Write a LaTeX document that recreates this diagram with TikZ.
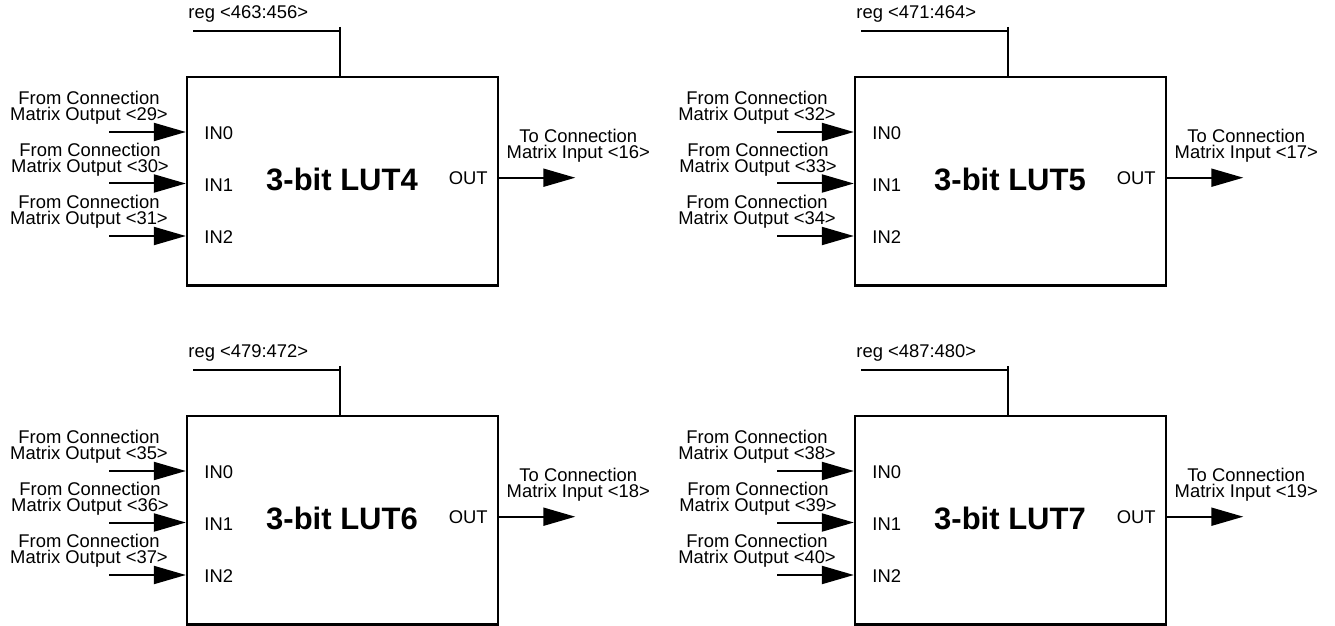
\documentclass[tikz,border=0pt]{standalone}
\usepackage{fontspec}
\setmainfont{Liberation Sans}
\usetikzlibrary{calc}
\usetikzlibrary{arrows.meta}

\begin{document}
\begin{tikzpicture}[x=0.5pt,y=-0.5pt]
    \tikzstyle{lut}=[draw,line width=1.15pt,minimum width=155.6pt,minimum height=104.2pt,inner sep=0]
    \tikzstyle{sig}=[line width=1pt,-{Triangle[length=16pt,width=9pt]}]
    \tikzstyle{wire}=[line width=1pt]
    \tikzstyle{lbl}=[inner sep=0,align=center,font=\fontsize{9.2}{7.8}\selectfont]
    \tikzstyle{pin}=[inner sep=0,font=\fontsize{9.2}{11}\selectfont]
    \tikzstyle{title}=[inner sep=0,font=\fontsize{15.5}{18}\selectfont\bfseries]
    \useasboundingbox (0,0) rectangle (1335,626);

    % LUT4
    \node[lut] (lut4) at (342.6,181.2) {};
    \node[title] (t4) at (342,179) {3-bit LUT4};
    \node[pin,anchor=west] (r4) at (188,14) {reg <463:456>};
    \coordinate (r4a) at (193,31);
    \coordinate (r4b) at (340,27);
    \draw[wire] (r4a) -- (r4a -| r4b);
    \draw[wire] (r4b) -- (r4b |- lut4.north);
    \coordinate (i4a) at (109,132);
    \coordinate (i4b) at (109,183.5);
    \coordinate (i4c) at (109,236);
    \draw[sig] (i4a) -- (i4a -| lut4.west);
    \draw[sig] (i4b) -- (i4b -| lut4.west);
    \draw[sig] (i4c) -- (i4c -| lut4.west);
    \node[lbl] (f4a) at (89,108) {From Connection\\Matrix Output <29>};
    \node[lbl] (f4b) at (90,159.5) {From Connection\\Matrix Output <30>};
    \node[lbl] (f4c) at (89,212) {From Connection\\Matrix Output <31>};
    \node[pin,anchor=west] (p4a) at (204,133.5) {IN0};
    \node[pin,anchor=west] (p4b) at (204,185) {IN1};
    \node[pin,anchor=west] (p4c) at (204,237.5) {IN2};
    \node[pin,anchor=east] (o4) at (488,178.5) {OUT};
    \coordinate (q4) at (575.3,177.7);
    \draw[sig] (lut4.east |- q4) -- (q4);
    \node[lbl] (g4) at (578.3,146) {To Connection\\Matrix Input <16>};

    % LUT5
    \node[lut] (lut5) at (1010.6,181.2) {};
    \node[title] (t5) at (1010,179) {3-bit LUT5};
    \node[pin,anchor=west] (r5) at (856,14) {reg <471:464>};
    \coordinate (r5a) at (861,31);
    \coordinate (r5b) at (1008,27);
    \draw[wire] (r5a) -- (r5a -| r5b);
    \draw[wire] (r5b) -- (r5b |- lut5.north);
    \coordinate (i5a) at (777,132);
    \coordinate (i5b) at (777,183.5);
    \coordinate (i5c) at (777,236);
    \draw[sig] (i5a) -- (i5a -| lut5.west);
    \draw[sig] (i5b) -- (i5b -| lut5.west);
    \draw[sig] (i5c) -- (i5c -| lut5.west);
    \node[lbl] (f5a) at (757,108) {From Connection\\Matrix Output <32>};
    \node[lbl] (f5b) at (758,159.5) {From Connection\\Matrix Output <33>};
    \node[lbl] (f5c) at (757,212) {From Connection\\Matrix Output <34>};
    \node[pin,anchor=west] (p5a) at (872,133.5) {IN0};
    \node[pin,anchor=west] (p5b) at (872,185) {IN1};
    \node[pin,anchor=west] (p5c) at (872,237.5) {IN2};
    \node[pin,anchor=east] (o5) at (1156,178.5) {OUT};
    \coordinate (q5) at (1243.3,177.7);
    \draw[sig] (lut5.east |- q5) -- (q5);
    \node[lbl] (g5) at (1246.3,146) {To Connection\\Matrix Input <17>};

    % LUT6
    \node[lut] (lut6) at (342.6,520.2) {};
    \node[title] (t6) at (342,518) {3-bit LUT6};
    \node[pin,anchor=west] (r6) at (188,353) {reg <479:472>};
    \coordinate (r6a) at (193,370);
    \coordinate (r6b) at (340,366);
    \draw[wire] (r6a) -- (r6a -| r6b);
    \draw[wire] (r6b) -- (r6b |- lut6.north);
    \coordinate (i6a) at (109,471);
    \coordinate (i6b) at (109,522.5);
    \coordinate (i6c) at (109,575);
    \draw[sig] (i6a) -- (i6a -| lut6.west);
    \draw[sig] (i6b) -- (i6b -| lut6.west);
    \draw[sig] (i6c) -- (i6c -| lut6.west);
    \node[lbl] (f6a) at (89,447) {From Connection\\Matrix Output <35>};
    \node[lbl] (f6b) at (90,498.5) {From Connection\\Matrix Output <36>};
    \node[lbl] (f6c) at (89,551) {From Connection\\Matrix Output <37>};
    \node[pin,anchor=west] (p6a) at (204,472.5) {IN0};
    \node[pin,anchor=west] (p6b) at (204,524) {IN1};
    \node[pin,anchor=west] (p6c) at (204,576.5) {IN2};
    \node[pin,anchor=east] (o6) at (488,517.5) {OUT};
    \coordinate (q6) at (575.3,516.7);
    \draw[sig] (lut6.east |- q6) -- (q6);
    \node[lbl] (g6) at (578.3,485) {To Connection\\Matrix Input <18>};

    % LUT7
    \node[lut] (lut7) at (1010.6,520.2) {};
    \node[title] (t7) at (1010,518) {3-bit LUT7};
    \node[pin,anchor=west] (r7) at (856,353) {reg <487:480>};
    \coordinate (r7a) at (861,370);
    \coordinate (r7b) at (1008,366);
    \draw[wire] (r7a) -- (r7a -| r7b);
    \draw[wire] (r7b) -- (r7b |- lut7.north);
    \coordinate (i7a) at (777,471);
    \coordinate (i7b) at (777,522.5);
    \coordinate (i7c) at (777,575);
    \draw[sig] (i7a) -- (i7a -| lut7.west);
    \draw[sig] (i7b) -- (i7b -| lut7.west);
    \draw[sig] (i7c) -- (i7c -| lut7.west);
    \node[lbl] (f7a) at (757,447) {From Connection\\Matrix Output <38>};
    \node[lbl] (f7b) at (758,498.5) {From Connection\\Matrix Output <39>};
    \node[lbl] (f7c) at (757,551) {From Connection\\Matrix Output <40>};
    \node[pin,anchor=west] (p7a) at (872,472.5) {IN0};
    \node[pin,anchor=west] (p7b) at (872,524) {IN1};
    \node[pin,anchor=west] (p7c) at (872,576.5) {IN2};
    \node[pin,anchor=east] (o7) at (1156,517.5) {OUT};
    \coordinate (q7) at (1243.3,516.7);
    \draw[sig] (lut7.east |- q7) -- (q7);
    \node[lbl] (g7) at (1246.3,485) {To Connection\\Matrix Input <19>};
\end{tikzpicture}
\end{document}
